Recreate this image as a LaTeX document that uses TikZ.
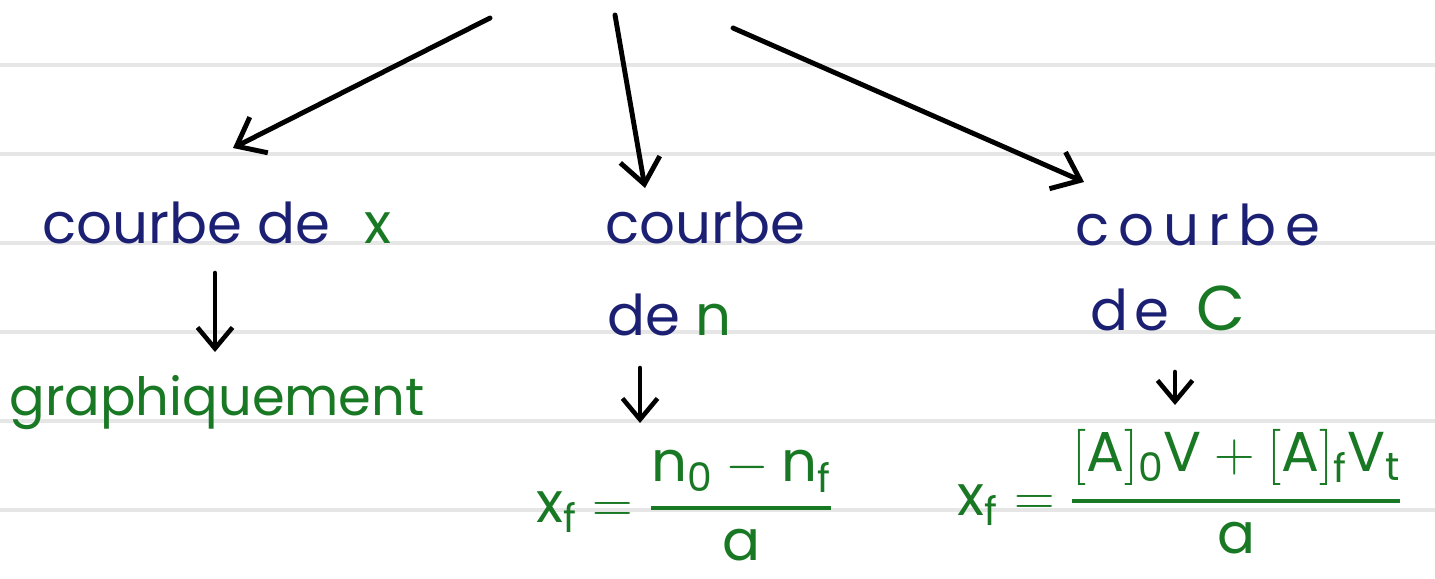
\documentclass[tikz,border=0pt]{standalone}
\usepackage{fix-cm}
\usepackage{amsmath}
\usepackage{fontspec}
\setmainfont{Poppins}
\usetikzlibrary{arrows.meta,calc}
\definecolor{inkblue}{RGB}{28,32,115}
\definecolor{inkgreen}{RGB}{25,120,35}
\definecolor{ruled}{RGB}{230,230,230}
\begin{document}
\begin{tikzpicture}[x=0.02cm,y=-0.02cm,
  hand/.style={inner sep=0pt, font=\fontsize{32}{38}\selectfont},
  bluetxt/.style={hand, text=inkblue},
  greentxt/.style={hand, text=inkgreen},
  bigarrow/.style={draw=black, line width=2.8pt, line cap=round, -{Straight Barb[length=0.5cm,width=0.8cm]}},
  smallarrow/.style={draw=black, line width=2.6pt, line cap=round, -{Straight Barb[length=0.42cm,width=0.7cm]}},
  ruleline/.style={draw=ruled, line width=1.8pt}]
\useasboundingbox (0,0) rectangle (1435,578);
\foreach \yy in {65,154,243,332,421,510} {\draw[ruleline] (0,\yy) -- (1435,\yy);}

\node[bluetxt, anchor=base] (cx) at (217,243) {courbe de\hspace{0.6em}{\color{inkgreen}x}};
\node[greentxt, anchor=base, font=\fontsize{30}{36}\selectfont] (gr) at (217,415) {graphiquement};
\node[bluetxt, anchor=base west] (cn1) at (605,243) {courbe};
\node[bluetxt, anchor=base west] (cn2) at (607,335) {de {\color{inkgreen}n}};
\node[bluetxt, anchor=base west] (cc1) at (1075,245) {\addfontfeature{LetterSpace=16}courbe};
\node[bluetxt, anchor=base west] (cc2) at (1090,330) {\addfontfeature{LetterSpace=10}de\hspace{0.5em}{\color{inkgreen}\fontsize{36}{40}\selectfont C}};

\node[greentxt, anchor=base] (fn) at (685,522)
  {$\text{x}_{\text{f}} = \genfrac{}{}{2.5pt}{0}{\text{n}_{\text{0}} - \text{n}_{\text{f}}}{\text{a}}$};
\node[greentxt, anchor=base] (fc) at (1180,515)
  {$\text{x}_{\text{f}} = \genfrac{}{}{2.5pt}{0}{[\text{A}]_{\text{0}}\text{V} + [\text{A}]_{\text{f}}\text{V}_{\text{t}}}{\text{a}}$};

\coordinate (s1) at (490,18);
\coordinate (s2) at (615,15);
\coordinate (s3) at (733,28);
\draw[bigarrow] (s1) -- ($(cx.base)+(16,-95)$);
\draw[bigarrow] (s2) -- ($(cn1.base west)+(40,-55)$);
\draw[bigarrow] (s3) -- ($(cc1.base west)+(9,-63)$);

\draw[smallarrow] ($(cx.base)+(-2,30)$) -- ($(gr.base)+(-2,-63)$);
\draw[smallarrow] ($(cn2.base west)+(33,33)$) -- ($(fn.base)+(-45,-99)$);
\draw[smallarrow] ($(cc2.base west)+(85,42)$) -- ($(fc.base)+(-5,-110)$);
\end{tikzpicture}
\end{document}
